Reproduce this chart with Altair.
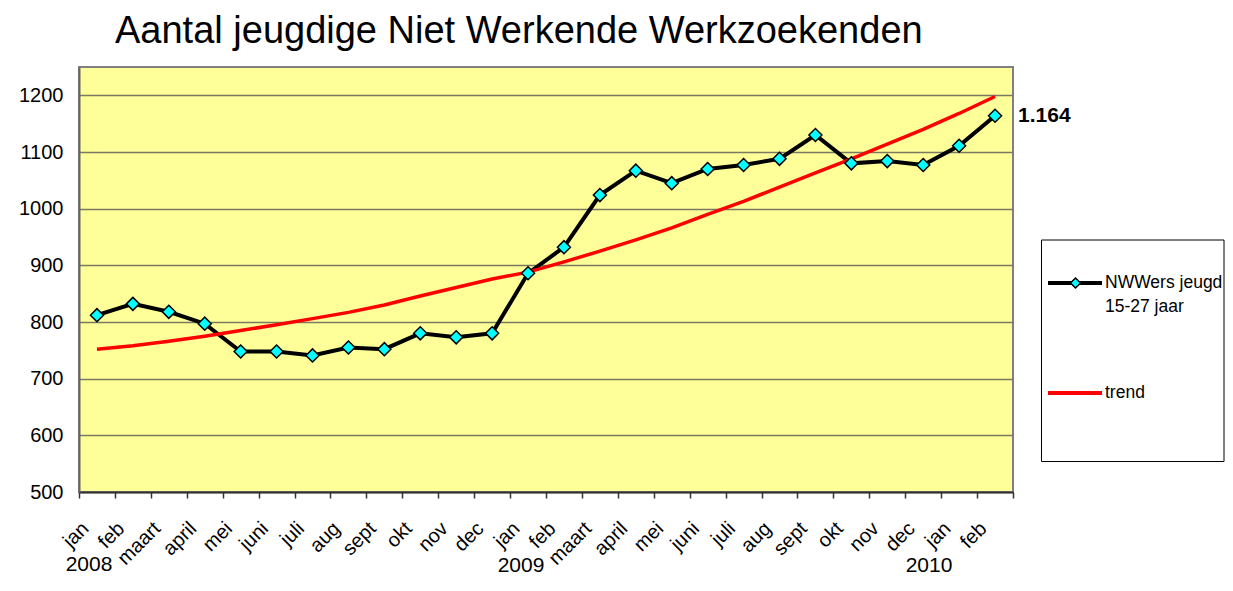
import altair as alt
import pandas as pd

# ---- data ----
months = ["jan", "feb", "maart", "april", "mei", "juni", "juli", "aug", "sept", "okt", "nov", "dec",
          "jan", "feb", "maart", "april", "mei", "juni", "juli", "aug", "sept", "okt", "nov", "dec",
          "jan", "feb"]
nwwers = [812, 832, 818, 797, 748, 748, 741, 755, 752, 780, 773, 780,
          886, 932, 1024, 1067, 1045, 1070, 1077, 1088, 1130, 1080, 1084, 1077,
          1111, 1164]
trend = [752, 758, 766, 775, 785, 795, 806, 817, 830, 846, 861, 876,
         888, 906, 925, 945, 966, 990, 1013, 1038, 1063, 1088, 1114, 1140,
         1168, 1198]
years = ["2008", "2009", "2010"]
y_ticks = [500, 600, 700, 800, 900, 1000, 1100, 1200]
series_names = ["NWWers jeugd", "15-27 jaar", "trend"]
title_text = "Aantal jeugdige Niet Werkende Werkzoekenden"

keys = [f"{m}|{i}" for i, m in enumerate(months)]
df_n = pd.DataFrame({"key": keys, "value": nwwers})
df_t = pd.DataFrame({"key": keys, "value": trend})
df_last = df_n.tail(1).copy()
df_last["label"] = [f"{v:,.0f}".replace(",", ".") for v in df_last["value"]]
one = pd.DataFrame({"a": [0]})

FONT = "Liberation Sans"

x_enc = alt.X(
    "key:N",
    sort=keys,
    bandPosition=0.5,
    scale=alt.Scale(type="band", domain=keys, paddingInner=0, paddingOuter=0),
    axis=alt.Axis(
        title=None,
        labelExpr="indexof(datum.value + '', '|') >= 0 ? split(datum.value, '|')[0] : ''",
        labelAngle=-45,
        labelAlign="right",
        labelBaseline="top",
        labelOffset=-19,
        labelPadding=20,
        labelFont=FONT,
        labelFontSize=20,
        labelColor="#000000",
        tickBand="extent",
        ticks=True,
        tickSize=6,
        tickColor="#333333",
        tickWidth=1.5,
        domainColor="#333333",
        domainWidth=2,
        grid=False,
        labelOverlap=False,
    ),
)
y_enc = alt.Y(
    "value:Q",
    scale=alt.Scale(domain=[500, 1250], nice=False, zero=False),
    axis=alt.Axis(
        title=None,
        values=y_ticks,
        format="d",
        ticks=False,
        grid=True,
        gridColor="#7a7a62",
        gridWidth=1.6,
        labelFont=FONT,
        labelFontSize=20,
        labelColor="#000000",
        labelPadding=16,
        domainColor="#666666",
        domainWidth=2,
    ),
)

line_n = alt.Chart(df_n).mark_line(color="#000000", strokeWidth=4).encode(x=x_enc, y=y_enc)
line_t = alt.Chart(df_t).mark_line(color="#ff0000", strokeWidth=3.5).encode(x=x_enc, y=y_enc)
pts = alt.Chart(df_n).mark_point(
    shape="diamond", size=170, filled=True, fill="#00ffff", stroke="#000000", strokeWidth=1.5, opacity=1
).encode(x=x_enc, y=y_enc)
last_lbl = alt.Chart(df_last).mark_text(
    align="left", baseline="middle", dx=23, font=FONT, fontSize=21, fontWeight="bold", color="#000000"
).encode(x=x_enc, y=y_enc, text="label:N")

# chart title
title_mark = alt.Chart(one).mark_text(
    align="left", baseline="alphabetic", font=FONT, fontSize=38, color="#000000"
).encode(x=alt.value(36), y=alt.value(-24), text=alt.value(title_text))

# year labels under the month axis
year_layers = []
for txt, xp, yp in zip(years, [10, 442, 850], [504, 505, 505]):
    year_layers.append(
        alt.Chart(one).mark_text(align="center", baseline="alphabetic", font=FONT, fontSize=21, color="#000000")
        .encode(x=alt.value(xp), y=alt.value(yp), text=alt.value(txt))
    )

# legend box
leg_box = alt.Chart(one).mark_rect(fill="#ffffff", stroke="#000000", strokeWidth=1).encode(
    x=alt.value(962.5), x2=alt.value(1145), y=alt.value(173), y2=alt.value(394.5)
)
leg_l1 = alt.Chart(one).mark_rule(color="#000000", strokeWidth=4).encode(
    x=alt.value(969), x2=alt.value(1023), y=alt.value(216)
)
leg_p1 = alt.Chart(one).mark_point(
    shape="diamond", size=100, filled=True, fill="#00ffff", stroke="#000000", strokeWidth=1.5, opacity=1
).encode(x=alt.value(996.5), y=alt.value(216))
leg_l2 = alt.Chart(one).mark_rule(color="#ff0000", strokeWidth=4).encode(
    x=alt.value(969), x2=alt.value(1023), y=alt.value(326)
)
leg_texts = []
for txt, yp in zip(series_names, [216, 239.5, 326]):
    leg_texts.append(
        alt.Chart(one).mark_text(align="left", baseline="middle", font=FONT, fontSize=17.5, color="#000000")
        .encode(x=alt.value(1026), y=alt.value(yp), text=alt.value(txt))
    )

chart = alt.layer(
    line_n, line_t, pts, last_lbl, title_mark, *year_layers, leg_box, leg_l1, leg_p1, leg_l2, *leg_texts
).properties(
    width=934,
    height=425,
    padding={"left": 71, "top": 59, "right": 212, "bottom": 86},
    autosize=alt.AutoSizeParams(type="none"),
    background="#ffffff",
).configure_view(
    fill="#ffff99", stroke="#808080", strokeWidth=2
)

chart.save("out.html", embed_options={"renderer": "svg", "actions": False})
